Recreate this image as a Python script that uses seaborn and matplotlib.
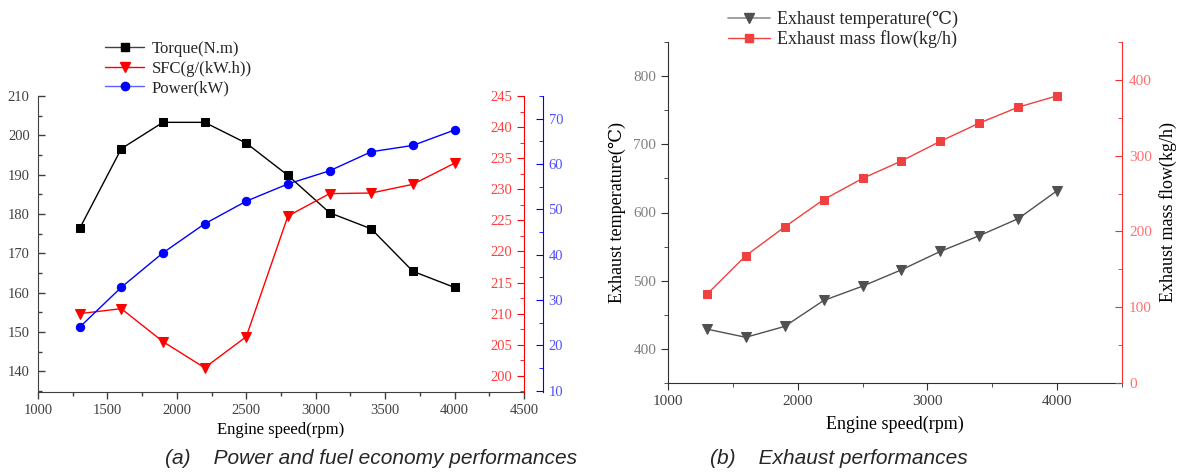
import matplotlib
matplotlib.use("Agg")
import matplotlib.pyplot as plt
import seaborn as sns
import numpy as np
from matplotlib.ticker import MultipleLocator
from matplotlib.lines import Line2D

speed = [1300, 1600, 1900, 2200, 2500, 2800, 3100, 3400, 3700, 4000]
torque = [176.3, 196.6, 203.3, 203.3, 198.0, 189.8, 180.3, 176.2, 165.4, 161.3]
sfc = [210.0, 210.8, 205.5, 201.3, 206.3, 225.7, 229.3, 229.4, 230.8, 234.2]
power = [24.0, 32.8, 40.4, 46.8, 51.8, 55.6, 58.5, 62.7, 64.1, 67.5]
exh_temp = [429, 417, 433, 471, 492, 516, 543, 566, 591, 632]
exh_flow = [117, 168, 206, 242, 270, 293, 319, 343, 364, 379]

sns.set_style("ticks")
plt.rcParams['font.family'] = ['Liberation Serif', 'DejaVu Serif']

fig = plt.figure(figsize=(11.82, 4.72), dpi=100)
W, H = 1182, 472

def box(l, t, r, b):
    return [l / W, 1 - b / H, (r - l) / W, (b - t) / H]

# ---------- panel (a) ----------
ax1 = fig.add_axes(box(38, 96, 524, 392))
ax2 = ax1.twinx()
ax3 = ax1.twinx()

sns.lineplot(x=speed, y=torque, ax=ax1, color='black', marker='s', markersize=5.5,
             markeredgecolor='black', linewidth=1)
sns.lineplot(x=speed, y=sfc, ax=ax2, color='#ff0000', marker='v', markersize=7,
             markeredgecolor='#ff0000', linewidth=1)
sns.lineplot(x=speed, y=power, ax=ax3, color='#0000ff', marker='o', markersize=6,
             markeredgecolor='#0000ff', linewidth=1)

ax1.set_xlim(1000, 4500)
ax1.set_ylim(134.7, 210)
ax2.set_ylim(197.4, 245)
ax3.set_ylim(9.7, 75)
ax1.xaxis.set_major_locator(MultipleLocator(500))
ax1.xaxis.set_minor_locator(MultipleLocator(250))
ax1.yaxis.set_major_locator(MultipleLocator(10))
ax1.yaxis.set_minor_locator(MultipleLocator(5))
ax2.yaxis.set_major_locator(MultipleLocator(5))
ax2.yaxis.set_minor_locator(MultipleLocator(2.5))
ax3.yaxis.set_major_locator(MultipleLocator(10))
ax3.yaxis.set_minor_locator(MultipleLocator(5))

gray = '#404040'
for a in (ax1, ax2, ax3):
    a.spines['top'].set_visible(False)
ax1.spines['right'].set_visible(False)
ax1.spines['left'].set_color(gray)
ax1.spines['bottom'].set_color(gray)
ax1.tick_params(axis='x', which='both', direction='out', colors=gray, labelsize=10.5, width=1)
ax1.tick_params(axis='y', which='both', direction='in', colors=gray, labelsize=10.5, width=1, pad=6)
ax1.tick_params(which='major', length=5)
ax1.tick_params(which='minor', length=3)
ax1.set_xticklabels([f'{int(v)}' for v in ax1.get_xticks()])

# red axis: spine at right edge, ticks and labels on its left side
ax2.yaxis.tick_left()
ax2.yaxis.set_label_position('left')
ax2.spines['right'].set_visible(False)
ax2.spines['bottom'].set_visible(False)
ax2.spines['left'].set_position(('axes', 1.0))
ax2.spines['left'].set_color('#ff0000')
ax2.tick_params(axis='y', which='both', direction='out', colors='#ff0000', labelcolor='#ff4040', labelsize=10.5)
ax2.tick_params(which='major', length=5)
ax2.tick_params(which='minor', length=3)

# blue axis: offset spine, ticks pointing in, labels right
ax3.spines['left'].set_visible(False)
ax3.spines['bottom'].set_visible(False)
ax3.spines['right'].set_position(('axes', 1 + 19 / 486))
ax3.spines['right'].set_color('#0000ff')
ax3.tick_params(axis='y', which='both', direction='in', colors='#0000ff', labelcolor='#5050ff', labelsize=10.5, pad=4)
ax3.tick_params(which='major', length=5)
ax3.tick_params(which='minor', length=3)

for a in (ax1, ax2, ax3):
    a.set_ylabel('')
ax1.set_xlabel('Engine speed(rpm)', fontsize=12, color='black', labelpad=4)

h1 = [Line2D([], [], color='#404040', lw=1, marker='s', ms=5.5, mfc='black', mec='black'),
      Line2D([], [], color='#ff0000', lw=1, marker='v', ms=7, mfc='#ff0000', mec='#ff0000'),
      Line2D([], [], color='#6060ff', lw=1, marker='o', ms=6, mfc='#0000ff', mec='#0000ff')]
fig.legend(h1, ['Torque(N.m)', 'SFC(g/(kW.h))', 'Power(kW)'], loc='upper left',
           bbox_to_anchor=(97 / W, 1 - 33 / H), frameon=False, fontsize=12,
           handlelength=2.3, handletextpad=0.5, labelspacing=0.2, borderpad=0)

# ---------- panel (b) ----------
bx1 = fig.add_axes(box(668, 42, 1122, 383))
bx2 = bx1.twinx()
sns.lineplot(x=speed, y=exh_temp, ax=bx1, color='#505050', marker='v', markersize=7,
             markeredgecolor='#505050', linewidth=1)
sns.lineplot(x=speed, y=exh_flow, ax=bx2, color='#f04040', marker='s', markersize=5.5,
             markeredgecolor='#f04040', linewidth=1)
bx1.set_xlim(1000, 4500)
bx1.set_ylim(350, 850)
bx2.set_ylim(0, 450)
bx1.xaxis.set_major_locator(MultipleLocator(1000))
bx1.xaxis.set_minor_locator(MultipleLocator(500))
bx1.yaxis.set_major_locator(MultipleLocator(100))
bx1.yaxis.set_minor_locator(MultipleLocator(50))
bx2.yaxis.set_major_locator(MultipleLocator(100))
bx2.yaxis.set_minor_locator(MultipleLocator(50))
for a in (bx1, bx2):
    a.spines['top'].set_visible(False)
bx1.spines['right'].set_visible(False)
bx1.spines['left'].set_color('#303030')
bx1.spines['bottom'].set_color('#303030')
bx2.spines['left'].set_visible(False)
bx2.spines['bottom'].set_visible(False)
bx2.spines['right'].set_color('#f03030')
bx1.tick_params(axis='x', which='both', direction='out', colors='#303030', labelcolor='#404040', labelsize=11)
bx1.tick_params(axis='y', which='both', direction='out', colors='#303030', labelcolor='#808080', labelsize=11)
bx2.tick_params(axis='y', which='both', direction='in', colors='#f03030', labelcolor='#ff7070', labelsize=11, pad=5)
for a in (bx1, bx2):
    a.tick_params(which='major', length=5)
    a.tick_params(which='minor', length=3)
bx1.set_xticklabels([f'{int(v)}' for v in bx1.get_xticks()])
bx1.set_xlabel('Engine speed(rpm)', fontsize=13, color='black', labelpad=6)
bx1.set_ylabel('Exhaust temperature(℃)', fontsize=13, color='black', labelpad=5)
bx2.set_ylabel('Exhaust mass flow(kg/h)', fontsize=13, color='black', labelpad=5)

h2 = [Line2D([], [], color='#909090', lw=1.2, marker='v', ms=7, mfc='#505050', mec='#505050'),
      Line2D([], [], color='#f04040', lw=1, marker='s', ms=5.5, mfc='#f04040', mec='#f04040')]
fig.legend(h2, ['Exhaust temperature(℃)', 'Exhaust mass flow(kg/h)'], loc='upper left',
           bbox_to_anchor=(719 / W, 1 - 2 / H), frameon=False, fontsize=13,
           handlelength=2.3, handletextpad=0.4, labelspacing=0.1, borderpad=0)

# ---------- captions ----------
fig.text(371 / W, 1 - 459 / H, '(a)    Power and fuel economy performances', ha='center', va='center',
         fontsize=15, style='italic', family=['Liberation Sans', 'DejaVu Sans'])
fig.text(839 / W, 1 - 459 / H, '(b)    Exhaust performances', ha='center', va='center',
         fontsize=15, style='italic', family=['Liberation Sans', 'DejaVu Sans'])

fig.savefig('out.png', dpi=100)
